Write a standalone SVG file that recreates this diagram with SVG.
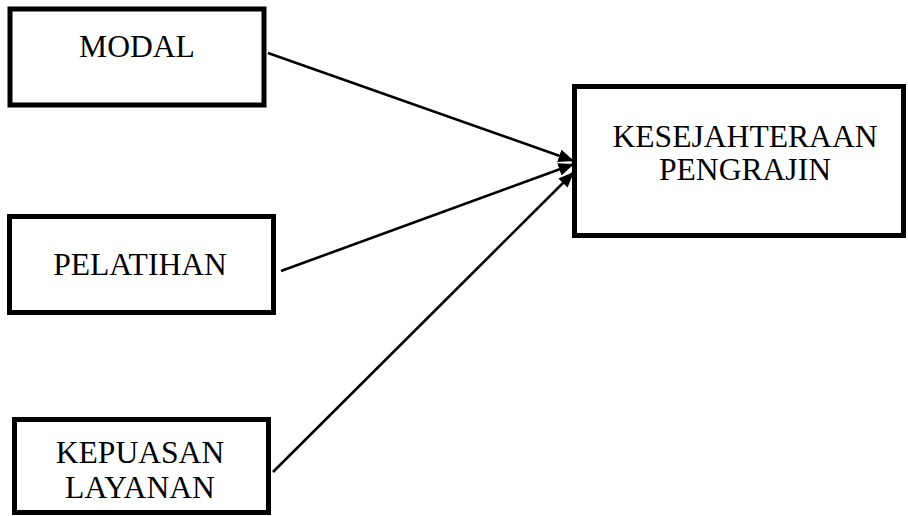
<svg xmlns="http://www.w3.org/2000/svg" width="908" height="516" viewBox="0 0 908 516">
<defs>
<marker id="arr" markerWidth="6" markerHeight="5" refX="6" refY="2.5" orient="auto" markerUnits="strokeWidth">
<path d="M0,0 L6,2.5 L0,5 Z" fill="#000"/>
</marker>
<style>
.box{fill:#fff;stroke:#000;stroke-width:5}
.t{font-family:"Liberation Serif","Times New Roman",serif;font-size:31.6px;fill:#000;text-anchor:middle}
.c{stroke:#000;stroke-width:2.6;fill:none;marker-end:url(#arr)}
</style>
</defs>
<rect width="908" height="516" fill="#fff"/>
<g id="modal"><rect class="box" x="10" y="9" width="254" height="96"/><text class="t" x="137" y="57">MODAL</text></g>
<g id="pelatihan"><rect class="box" x="9.5" y="216.5" width="264" height="96"/><text class="t" x="140" y="275">PELATIHAN</text></g>
<g id="kepuasan"><rect class="box" x="14.5" y="419.5" width="254" height="93"/><text class="t" x="140" y="463">KEPUASAN</text><text class="t" x="140" y="498">LAYANAN</text></g>
<g id="kesejahteraan"><rect class="box" x="574.5" y="86.5" width="329" height="149"/><text class="t" x="745" y="147">KESEJAHTERAAN</text><text class="t" x="745" y="180">PENGRAJIN</text></g>
<g id="connectors">
<line class="c" x1="268" y1="53" x2="574" y2="161"/>
<line class="c" x1="281" y1="271" x2="574" y2="164"/>
<line class="c" x1="273" y1="472" x2="574" y2="172"/>
</g>
</svg>
